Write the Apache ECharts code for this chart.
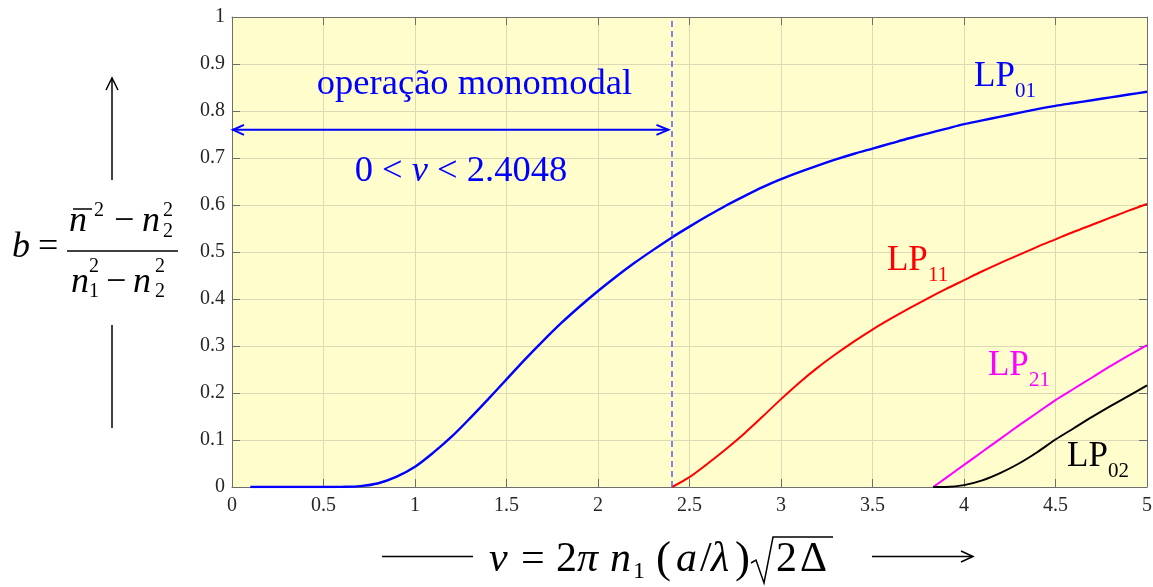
<!DOCTYPE html>
<html>
<head>
<meta charset="utf-8">
<script src="https://cdn.jsdelivr.net/npm/echarts@6/dist/echarts.min.js"></script>
<style>
  html, body { margin: 0; padding: 0; background: #ffffff; }
  #chart { width: 1153px; height: 587px; }
</style>
</head>
<body>
<div id="chart"></div>
<script>
// Normalised propagation constant b versus normalised frequency v
// for the lowest LP modes of a step-index fibre.

const vLP01 = [0.1, 0.2, 0.3, 0.4, 0.5, 0.6, 0.7, 0.8, 0.9, 1.0,
               1.1, 1.2, 1.3, 1.4, 1.5, 1.6, 1.7, 1.8, 1.9, 2.0,
               2.1, 2.2, 2.3, 2.4, 2.5, 2.6, 2.7, 2.8, 2.9, 3.0,
               3.1, 3.2, 3.3, 3.4, 3.5, 3.6, 3.7, 3.8, 3.9, 4.0,
               4.1, 4.2, 4.3, 4.4, 4.5, 4.6, 4.7, 4.8, 4.9, 5.0];
const bLP01 = [0, 0, 0, 0, 0, 0.0003, 0.0018, 0.008, 0.022, 0.043,
               0.073, 0.107, 0.146, 0.187, 0.229, 0.271, 0.311, 0.349, 0.384, 0.417,
               0.448, 0.477, 0.504, 0.530, 0.554, 0.577, 0.599, 0.619, 0.638, 0.655,
               0.670, 0.684, 0.697, 0.709, 0.720, 0.731, 0.742, 0.752, 0.762, 0.772,
               0.780, 0.788, 0.796, 0.804, 0.811, 0.817, 0.823, 0.829, 0.835, 0.841];

const vLP11 = [2.4048, 2.5, 2.6, 2.7, 2.8, 2.9, 3.0, 3.1, 3.2, 3.3, 3.4, 3.5, 3.6, 3.7,
               3.8, 3.9, 4.0, 4.1, 4.2, 4.3, 4.4, 4.5, 4.6, 4.7, 4.8, 4.9, 5.0];
const bLP11 = [0, 0.021, 0.050, 0.081, 0.114, 0.150, 0.187, 0.222, 0.254, 0.283, 0.310, 0.335, 0.358, 0.380,
               0.401, 0.421, 0.440, 0.459, 0.477, 0.494, 0.511, 0.527, 0.543, 0.558, 0.573, 0.588, 0.602];

const vLP21 = [3.8317, 3.9, 4.0, 4.1, 4.2, 4.3, 4.4, 4.5, 4.6, 4.7, 4.8, 4.9, 5.0];
const bLP21 = [0, 0.019, 0.047, 0.075, 0.103, 0.131, 0.158, 0.185, 0.209, 0.233, 0.257, 0.280, 0.302];

const vLP02 = [3.8317, 3.9, 4.0, 4.1, 4.2, 4.3, 4.4, 4.5, 4.6, 4.7, 4.8, 4.9, 5.0];
const bLP02 = [0, 0.0002, 0.004, 0.014, 0.030, 0.050, 0.074, 0.101, 0.125, 0.149, 0.172, 0.194, 0.216];

// single-mode cut-off (first zero of J0)
const vCutoff = 2.4048;

// mode names and the region text
const modeSubscripts = ['01', '11', '21', '02'];
const regionText = 'operação monomodal';
const rangeText = '0 < {i|v} < 2.4048';

// axis ranges and tick steps
const xRange = [0, 5], xStep = 0.5;
const yRange = [0, 1], yStep = 0.1;

// ---- placement of annotations (data coordinates of text baselines) ----
const modeLabelAnchors = [[4.055, 0.849], [3.579, 0.457], [4.131, 0.234], [4.563, 0.040]];
const modeColors = ['#0000ff', '#ff0000', '#ff00ff', '#000000'];
const regionAnchor = [1.325, 0.830];
const rangeAnchor = [1.251, 0.645];
const spanArrow = [0, 0.76, 2.385];

const SERIF = "'Liberation Serif', 'Times New Roman', serif";
const BASE_SHIFT = 0.33;   // middle-of-em to alphabetic baseline, in em

function zip(xs, ys) { return xs.map((x, i) => [x, ys[i]]); }

function txt(x, base, s, size, opt) {
  opt = opt || {};
  return {
    type: 'text', x: x, y: base - BASE_SHIFT * size, silent: true,
    style: {
      text: s, fontSize: size, fontFamily: SERIF,
      fontStyle: opt.italic ? 'italic' : 'normal',
      fill: opt.color || '#000000',
      align: opt.align || 'left', verticalAlign: 'middle'
    }
  };
}
function seg(x1, y1, x2, y2, w) {
  return { type: 'line', silent: true, shape: { x1, y1, x2, y2 },
           style: { stroke: '#000000', lineWidth: w || 1.5 } };
}
function poly(points, w) {
  return { type: 'polyline', silent: true, shape: { points },
           style: { stroke: '#000000', lineWidth: w || 1.5, fill: null } };
}

// axis titles drawn as typeset formulas
const axisTitleGraphics = [
  // y title: b = (n̄² − n₂²) / (n₁² − n₂²)
  seg(112, 79, 112, 180), poly([[106, 90], [112, 78], [118, 90]]),
  seg(112, 325, 112, 428),
  txt(12, 259, 'b', 36, { italic: true }),
  txt(38, 259, '=', 36),
  seg(67, 251, 178, 251, 1.5),
  txt(69, 233, 'n', 36, { italic: true }),
  seg(73, 209, 92, 209, 1.5),
  txt(94, 217, '2', 20),
  txt(114, 233, '\u2212', 36),
  txt(142, 233, 'n', 36, { italic: true }),
  txt(163, 217, '2', 20),
  txt(163, 238, '2', 20),
  txt(71, 294, 'n', 36, { italic: true }),
  txt(89, 273, '2', 20),
  txt(89, 298, '1', 20),
  txt(106, 294, '\u2212', 36),
  txt(133, 294, 'n', 36, { italic: true }),
  txt(155, 273, '2', 20),
  txt(155, 298, '2', 20),

  // x title: v = 2π n₁ (a/λ) √(2Δ)
  seg(382, 556.5, 473, 556.5), seg(872, 556.5, 972, 556.5),
  poly([[961, 551], [973, 556.5], [961, 562]]),
  txt(489, 574, 'v', 42, { italic: true }),
  txt(521, 574, '=', 42),
  txt(556, 574, '2', 42),
  txt(577, 574, '\u03c0', 42, { italic: true }),
  txt(610, 574, 'n', 42, { italic: true }),
  txt(633, 580, '1', 24),
  txt(656, 575, '(', 45),
  txt(676, 574, 'a', 42, { italic: true }),
  txt(700, 574, '/', 42),
  txt(711, 574, '\u03bb', 42, { italic: true }),
  txt(735, 575, ')', 45),
  poly([[751, 563], [756, 560], [764, 583], [773, 537], [833, 537]], 1.5),
  txt(776, 574, '2', 42),
  txt(800, 574, '\u0394', 42)
];

const axisGray = '#6e6e6e';
const gridLine = '#dcdab4';
const tickLabel = { fontFamily: SERIF, fontSize: 20, color: '#262626' };

function boxAxis(pos, range, step, showLabel, extra) {
  return Object.assign({
    type: 'value', position: pos, min: range[0], max: range[1], interval: step,
    axisLine: { show: true, onZero: false, lineStyle: { color: axisGray, width: 1 } },
    axisTick: { show: true, inside: true, length: 8, lineStyle: { color: axisGray, width: 1 } },
    axisLabel: Object.assign({ show: showLabel }, tickLabel),
    splitLine: { show: showLabel, lineStyle: { color: gridLine, width: 1 } },
    minorTick: { show: false }
  }, extra || {});
}

const chart = echarts.init(document.getElementById('chart'), null, { renderer: 'canvas' });

const modeSeries = [
  { name: 'LP01', v: vLP01, b: bLP01, color: modeColors[0], width: 2.4 },
  { name: 'LP11', v: vLP11, b: bLP11, color: modeColors[1], width: 2 },
  { name: 'LP21', v: vLP21, b: bLP21, color: modeColors[2], width: 2 },
  { name: 'LP02', v: vLP02, b: bLP02, color: modeColors[3], width: 2 }
].map((m, i) => {
  const s = {
    name: m.name, type: 'line', data: zip(m.v, m.b),
    showSymbol: false, symbol: 'none', smooth: 0.3, z: 4,
    lineStyle: { color: m.color, width: m.width },
    itemStyle: { color: m.color }
  };
  if (i === 0) {
    s.markLine = {
      silent: true, symbol: ['none', 'none'], animation: false,
      label: { show: false },
      lineStyle: { type: [6, 4], color: '#5b5bf5', width: 1.5 },
      data: [[{ coord: [vCutoff, yRange[0]] }, { coord: [vCutoff, yRange[1]] }]]
    };
  }
  return s;
});

const option = {
  animation: false,
  backgroundColor: '#ffffff',
  grid: {
    left: 232, right: 6, top: 17, bottom: 100,
    show: true, backgroundColor: '#fffdcc', borderWidth: 0,
    containLabel: false, outerBoundsMode: 'none'
  },
  xAxis: [
    boxAxis('bottom', xRange, xStep, true, { axisLabel: Object.assign({ show: true, margin: 9 }, tickLabel) }),
    boxAxis('top', xRange, xStep, false)
  ],
  yAxis: [
    boxAxis('left', yRange, yStep, true, { axisLabel: Object.assign({ show: true, margin: 7 }, tickLabel) }),
    boxAxis('right', yRange, yStep, false)
  ],
  series: modeSeries.concat([
    {
      // double-headed arrow marking the single-mode range
      name: 'span', type: 'custom', z: 5, silent: true, clip: false,
      encode: { x: [0, 2], y: 1 },
      data: [spanArrow],
      renderItem: function (params, api) {
        const p0 = api.coord([api.value(0), api.value(1)]);
        const p1 = api.coord([api.value(2), api.value(1)]);
        const head = 12, half = 5;
        const st = { stroke: '#0000ff', lineWidth: 2, fill: null };
        return {
          type: 'group', children: [
            { type: 'line', shape: { x1: p0[0], y1: p0[1], x2: p1[0], y2: p1[1] }, style: st },
            { type: 'polyline', shape: { points: [[p0[0] + head, p0[1] - half], [p0[0] + 1, p0[1]], [p0[0] + head, p0[1] + half]] }, style: st },
            { type: 'polyline', shape: { points: [[p1[0] - head, p1[1] - half], [p1[0], p1[1]], [p1[0] - head, p1[1] + half]] }, style: st }
          ]
        };
      }
    },
    {
      // region texts
      name: 'region', type: 'custom', z: 6, silent: true, clip: false,
      encode: { x: 0, y: 1 },
      data: [regionAnchor.concat([0]), rangeAnchor.concat([1])],
      renderItem: function (params, api) {
        const p = api.coord([api.value(0), api.value(1)]);
        const size = 36.5;
        const isRange = api.value(2) === 1;
        return {
          type: 'text', x: p[0], y: p[1] - BASE_SHIFT * size,
          style: {
            text: isRange ? rangeText : regionText,
            fontSize: size, fontFamily: SERIF, fill: '#0000ff',
            align: 'center', verticalAlign: 'middle',
            rich: { i: { fontSize: size, fontFamily: SERIF, fontStyle: 'italic', fill: '#0000ff' } }
          }
        };
      }
    },
    {
      // LP mode names with subscripts
      name: 'modeNames', type: 'custom', z: 6, silent: true, clip: false,
      encode: { x: 0, y: 1 },
      data: modeLabelAnchors.map((a, i) => a.concat([i])),
      renderItem: function (params, api) {
        const i = api.value(2);
        const p = api.coord([api.value(0), api.value(1)]);
        const big = 35, small = 21;
        const c = modeColors[i];
        return {
          type: 'group', children: [
            { type: 'text', x: p[0], y: p[1] - BASE_SHIFT * big,
              style: { text: 'LP', fontSize: big, fontFamily: SERIF, fill: c, align: 'left', verticalAlign: 'middle' } },
            { type: 'text', x: p[0] + 41, y: p[1] + 10 - BASE_SHIFT * small,
              style: { text: modeSubscripts[i], fontSize: small, fontFamily: SERIF, fill: c, align: 'left', verticalAlign: 'middle' } }
          ]
        };
      }
    }
  ]),
  graphic: { elements: axisTitleGraphics }
};

chart.setOption(option);
</script>
</body>
</html>
